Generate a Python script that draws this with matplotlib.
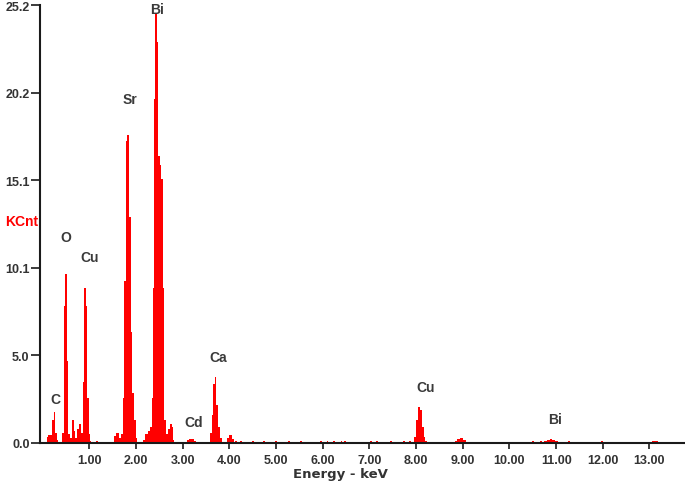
import matplotlib
matplotlib.use("Agg")
import matplotlib.pyplot as plt

# ---- data: spectrum channel groups (keV start, keV end, KCnt) ----
seg_start = [0.08, 0.12, 0.20, 0.23, 0.27, 0.30,
             0.41, 0.445, 0.48, 0.52, 0.55, 0.58, 0.62, 0.66, 0.70, 0.74, 0.78, 0.82,
             0.86, 0.89, 0.925, 0.955, 0.985, 1.01, 1.15,
             1.53, 1.57, 1.63, 1.67, 1.71, 1.745, 1.78, 1.81, 1.84, 1.88, 1.915, 1.95, 1.99,
             2.14, 2.18, 2.26, 2.30, 2.34, 2.365, 2.39, 2.41, 2.44, 2.47, 2.51, 2.54, 2.565,
             2.595, 2.63, 2.69, 2.72, 2.76, 2.79,
             3.10, 3.14, 3.24,
             3.58, 3.615, 3.65, 3.685, 3.72, 3.76, 3.80, 3.95, 3.99, 4.05,
             7.96, 8.00, 8.04, 8.08, 8.12, 8.16, 8.20,
             8.84, 8.88, 8.94, 9.00,
             10.74, 10.80, 10.86, 10.92, 10.98,
             13.05]
seg_end = [0.12, 0.20, 0.23, 0.27, 0.30, 0.33,
           0.445, 0.48, 0.52, 0.55, 0.58, 0.62, 0.66, 0.70, 0.74, 0.78, 0.82, 0.86,
           0.89, 0.925, 0.955, 0.985, 1.01, 1.04, 1.18,
           1.57, 1.63, 1.67, 1.71, 1.745, 1.78, 1.81, 1.84, 1.88, 1.915, 1.95, 1.99, 2.02,
           2.18, 2.26, 2.30, 2.34, 2.365, 2.39, 2.41, 2.44, 2.47, 2.51, 2.54, 2.565, 2.595,
           2.63, 2.69, 2.72, 2.76, 2.79, 2.82,
           3.14, 3.24, 3.28,
           3.615, 3.65, 3.685, 3.72, 3.76, 3.80, 3.84, 3.99, 4.05, 4.09,
           8.00, 8.04, 8.08, 8.12, 8.16, 8.20, 8.24,
           8.88, 8.94, 9.00, 9.06,
           10.80, 10.86, 10.92, 10.98, 11.04,
           13.18]
seg_count = [0.35, 0.45, 1.3, 1.8, 0.6, 0.15,
             0.6, 7.9, 9.75, 4.7, 0.5, 0.3, 1.3, 0.7, 0.3, 0.8, 1.1, 0.6,
             3.5, 8.9, 7.9, 2.6, 0.5, 0.1, 0.12,
             0.4, 0.6, 0.3, 0.5, 2.6, 9.3, 17.4, 17.7, 13.0, 6.4, 2.85, 1.3, 0.3,
             0.2, 0.5, 0.7, 0.9, 2.6, 8.9, 19.8, 24.7, 23.1, 16.5, 16.0, 15.2, 8.9,
             1.3, 0.5, 0.8, 1.1, 0.9, 0.2,
             0.15, 0.25, 0.1,
             0.6, 1.6, 3.4, 3.8, 2.2, 0.9, 0.3, 0.3, 0.45, 0.25,
             0.35, 1.3, 2.1, 1.9, 0.9, 0.35, 0.12,
             0.12, 0.25, 0.28, 0.15,
             0.12, 0.2, 0.25, 0.18, 0.1,
             0.12]

# background counts (keV position, KCnt)
bg_energy = [4.12, 4.22, 4.35, 4.48, 4.60, 4.72, 4.85, 4.97, 5.10, 5.25, 5.38, 5.52,
             5.66, 5.80, 5.95, 6.08, 6.22, 6.38, 6.45, 6.60, 6.75, 6.88, 7.02, 7.15,
             7.30, 7.45, 7.58, 7.72, 7.85, 8.35, 8.50, 8.65, 9.20, 9.45, 9.70, 9.95,
             10.20, 10.48, 10.66, 11.26, 11.96]
bg_count = [0.12, 0.10, 0.08, 0.10, 0.06, 0.09, 0.08, 0.10, 0.07, 0.09, 0.06, 0.10,
            0.08, 0.06, 0.09, 0.12, 0.10, 0.14, 0.10, 0.06, 0.08, 0.07, 0.10, 0.09,
            0.08, 0.10, 0.07, 0.09, 0.10, 0.08, 0.07, 0.08, 0.07, 0.06, 0.08, 0.06,
            0.07, 0.10, 0.10, 0.10, 0.10]

# peak labels
lbl_text = ["C", "O", "Cu", "Sr", "Bi", "Cd", "Ca", "Cu", "Bi"]
lbl_e = [0.26, 0.50, 1.01, 1.87, 2.45, 3.24, 3.76, 8.21, 10.98]
lbl_y = [2.54, 11.83, 10.73, 19.78, 24.95, 1.21, 4.96, 3.23, 1.38]

yticks = [0.0, 5.04, 10.08, 15.12, 20.16, 25.2]
ytick_labels = ["0.0", "5.0", "10.1", "15.1", "20.2", "25.2"]
xticks = [1, 2, 3, 4, 5, 6, 7, 8, 9, 10, 11, 12, 13]
xtick_labels = ["1.00", "2.00", "3.00", "4.00", "5.00", "6.00", "7.00",
                "8.00", "9.00", "10.00", "11.00", "12.00", "13.00"]

W, H = 685, 485
fig = plt.figure(figsize=(W / 100, H / 100), dpi=100)
ax = fig.add_axes([40 / W, (H - 444) / H, (684 - 40) / W, (444 - 6) / H])

red = "#ff0000"
widths = [e - s for s, e in zip(seg_start, seg_end)]
ax.bar(seg_start, seg_count, width=widths, align="edge", color=red, linewidth=0)
ax.bar(bg_energy, bg_count, width=0.04, align="edge", color=red, linewidth=0)

ax.set_xlim(-0.06, 13.74)
ax.set_ylim(0, 25.2)

for s in ["top", "right"]:
    ax.spines[s].set_visible(False)
for s in ["left", "bottom"]:
    ax.spines[s].set_linewidth(1.5)
    ax.spines[s].set_color("#1a1a1a")

tc = "#333333"
font = "Liberation Sans"
ax.set_yticks(yticks)
ax.set_yticklabels(ytick_labels, fontsize=9, fontweight="bold", color=tc, family=font)
ax.set_xticks(xticks)
ax.set_xticklabels(xtick_labels, fontsize=9, fontweight="bold", color=tc, family=font)
ax.tick_params(axis="y", direction="out", length=6.5, width=1.2, color="#1a1a1a", pad=1)
ax.tick_params(axis="x", direction="out", length=4, width=1.2, color="#1a1a1a", pad=4)

for t, e, y in zip(lbl_text, lbl_e, lbl_y):
    ax.text(e, y, t, ha="center", va="center", fontsize=10, fontweight="bold",
            color="#3a3a3a", family=font, clip_on=False)

fig.text(340 / W, (H - 475) / H, "Energy - keV", ha="center", va="center",
         fontsize=9.5, fontweight="bold", color=tc, family="DejaVu Sans")
fig.text(21.5 / W, (H - 222) / H, "KCnt", ha="center", va="center",
         fontsize=10, fontweight="bold", color=red, family=font)

fig.savefig("out.png", dpi=100)
